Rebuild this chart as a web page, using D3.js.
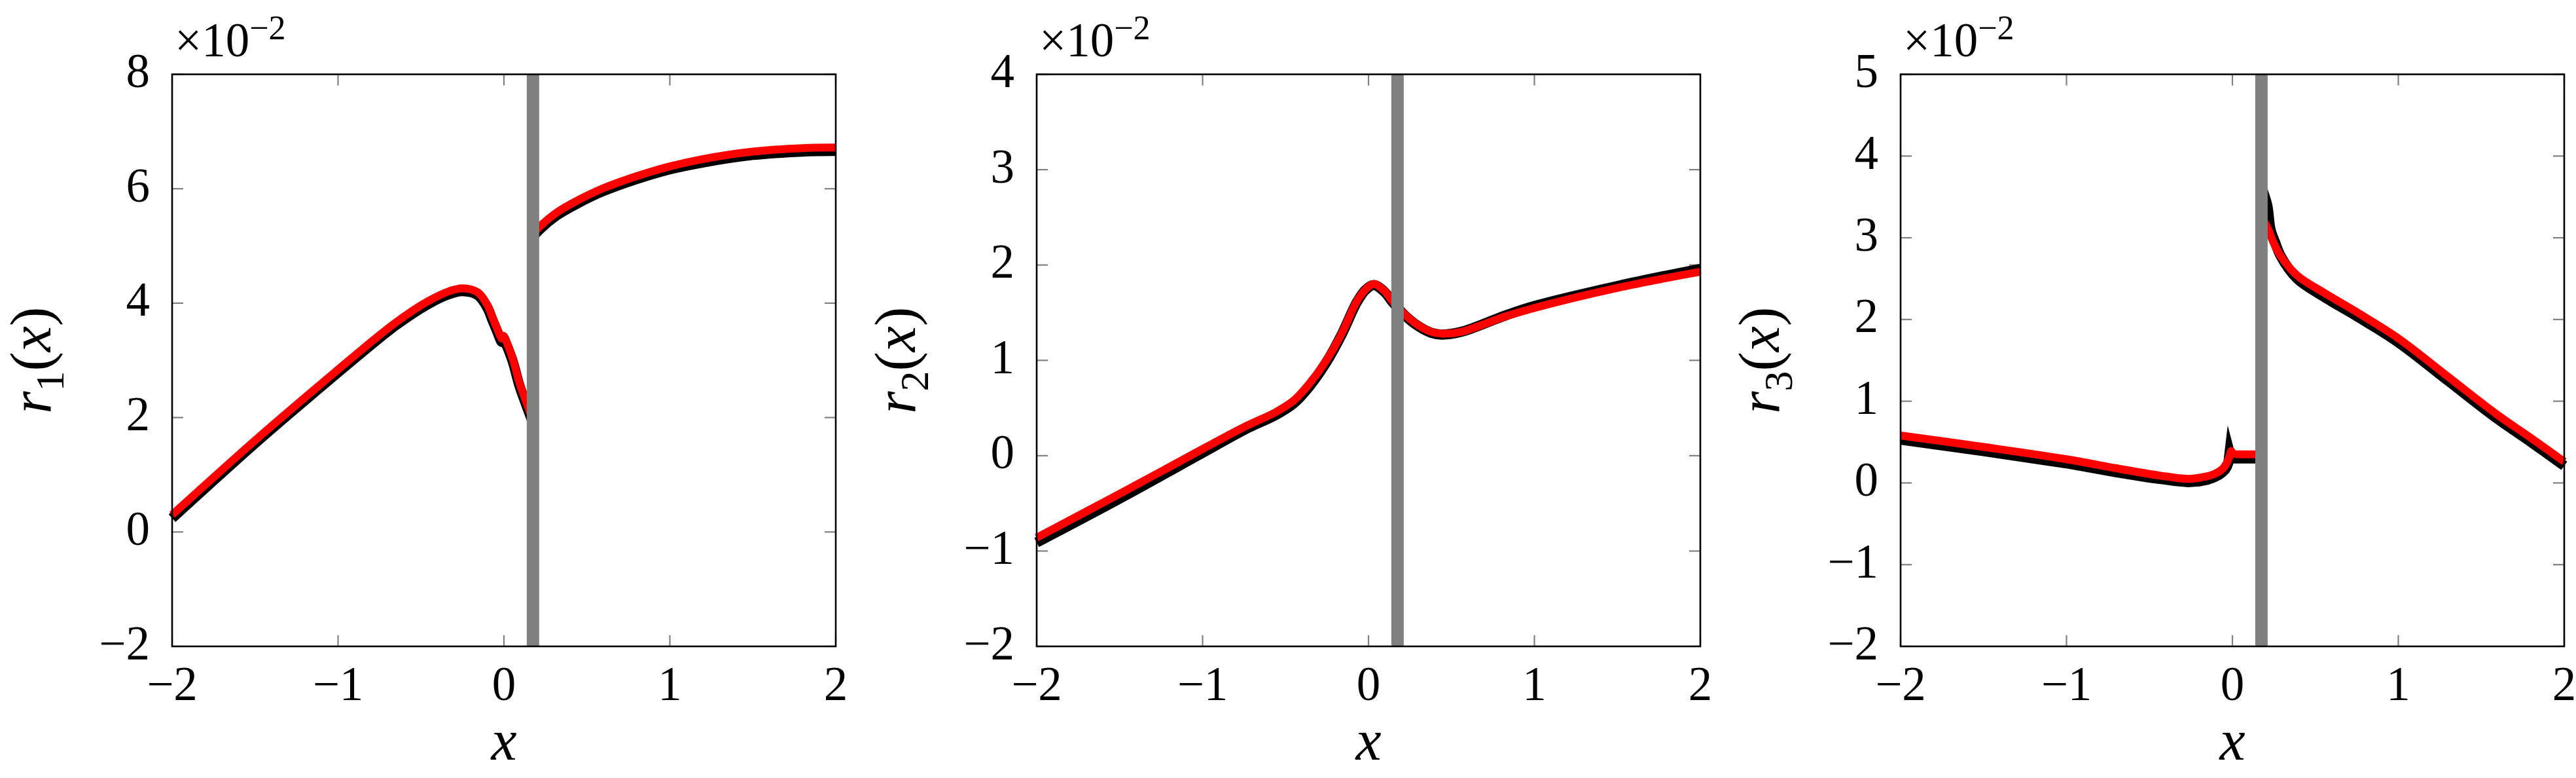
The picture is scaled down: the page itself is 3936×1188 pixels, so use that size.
<!DOCTYPE html>
<html><head><meta charset="utf-8">
<script src="https://cdn.jsdelivr.net/npm/d3@7"></script>
<style>html,body{margin:0;padding:0;background:#fff;} svg{display:block;}
svg text{font-family:"Liberation Serif","Times New Roman",Times,"Nimbus Roman",serif;}</style>
</head><body>
<svg id="chart" width="3936" height="1188"></svg>
<script>
// ---------- data (y in units of 1e-2) ----------
const xTicks = [-2, -1, 0, 1, 2];
const yTicks1 = [-2, 0, 2, 4, 6, 8];
const yTicks2 = [-2, -1, 0, 1, 2, 3, 4];
const yTicks3 = [-2, -1, 0, 1, 2, 3, 4, 5];
const yDomains = [[-2, 8], [-2, 4], [-2, 5]];
const yLabelSubs = ["1", "2", "3"];
const interfaceX = 0.175;

// panel 1: r1(x)
const r1RedLeft = [[-2,0.30],[-1.5,1.60],[-1.118,2.55],[-0.855,3.19],[-0.658,3.65],[-0.46,4.03],[-0.329,4.21],[-0.25,4.26],[-0.158,4.19],[-0.10,3.97],[-0.07,3.76],[-0.04,3.55],[-0.012,3.38],[-0.004,3.43],[0.01,3.36],[0.052,3.04],[0.092,2.62],[0.131,2.30],[0.175,1.96]];
const r1BlackLeft = [[-2,0.24],[-1.5,1.55],[-1.118,2.50],[-0.855,3.14],[-0.658,3.60],[-0.46,3.98],[-0.329,4.16],[-0.25,4.21],[-0.158,4.14],[-0.10,3.92],[-0.07,3.71],[-0.04,3.50],[-0.012,3.32],[-0.004,3.40],[0.01,3.31],[0.052,2.99],[0.092,2.57],[0.131,2.25],[0.175,1.91]];
const r1RedRight = [[0.175,5.22],[0.212,5.33],[0.316,5.58],[0.447,5.80],[0.6,6.01],[0.8,6.22],[1.0,6.39],[1.2,6.52],[1.5,6.65],[1.8,6.71],[2.0,6.72]];
const r1BlackRight = [[0.175,5.16],[0.212,5.28],[0.316,5.53],[0.447,5.75],[0.6,5.96],[0.8,6.17],[1.0,6.34],[1.2,6.46],[1.5,6.59],[1.8,6.65],[2.0,6.66]];

// panel 2: r2(x)
const r2Red = [[-2,-0.86],[-1.5,-0.40],[-1.0,0.07],[-0.75,0.30],[-0.556,0.46],[-0.45,0.58],[-0.359,0.75],[-0.254,1.00],[-0.162,1.28],[-0.07,1.62],[-0.017,1.745],[0.033,1.80],[0.101,1.72],[0.141,1.63],[0.22,1.48],[0.299,1.37],[0.377,1.30],[0.443,1.28],[0.561,1.30],[0.824,1.46],[1.0,1.55],[1.5,1.76],[2.0,1.93]];
const r2Black = [[-2,-0.91],[-1.5,-0.45],[-1.0,0.03],[-0.75,0.27],[-0.556,0.43],[-0.45,0.55],[-0.359,0.72],[-0.254,0.98],[-0.162,1.27],[-0.07,1.61],[-0.017,1.74],[0.033,1.79],[0.101,1.71],[0.141,1.62],[0.22,1.47],[0.299,1.36],[0.377,1.29],[0.443,1.27],[0.561,1.30],[0.824,1.47],[1.0,1.57],[1.5,1.78],[2.0,1.96]];

// panel 3: r3(x)
const r3RedLeft = [[-2,0.58],[-1.5,0.44],[-1.0,0.29],[-0.7,0.18],[-0.438,0.09],[-0.267,0.05],[-0.18,0.07],[-0.109,0.11],[-0.06,0.17],[-0.035,0.24],[-0.015,0.34],[-0.007,0.39],[0.005,0.36],[0.05,0.35],[0.1,0.35],[0.175,0.35]];
const r3BlackLeft = [[-2,0.53],[-1.5,0.39],[-1.0,0.24],[-0.7,0.13],[-0.5,0.065],[-0.438,0.05],[-0.35,0.025],[-0.267,0.01],[-0.2,0.02],[-0.15,0.04],[-0.109,0.07],[-0.08,0.10],[-0.06,0.13],[-0.045,0.16],[-0.033,0.20],[-0.024,0.25],[-0.017,0.37],[-0.008,0.30],[0.005,0.30],[0.05,0.30],[0.175,0.30]];
const r3RedRight = [[0.175,3.25],[0.21,3.13],[0.25,2.93],[0.29,2.78],[0.39,2.54],[0.55,2.33],[0.75,2.09],[1.0,1.77],[1.3,1.30],[1.6,0.83],[1.8,0.55],[2.0,0.26]];
const r3BlackRight = [[0.175,3.62],[0.21,3.40],[0.23,3.10],[0.26,2.93],[0.29,2.78],[0.39,2.50],[0.55,2.28],[0.75,2.04],[1.0,1.72],[1.3,1.25],[1.6,0.78],[1.8,0.50],[2.0,0.21]];

const panelYTicks = [yTicks1, yTicks2, yTicks3];
const panelRed = [[r1RedLeft, r1RedRight], [r2Red], [r3RedLeft, r3RedRight]];
const panelBlack = [[r1BlackLeft, r1BlackRight], [r2Black], [r3BlackLeft, r3BlackRight]];
const sharpSegs = new Set([r3BlackLeft]);

// ---------- layout ----------
const panelLefts = [263, 1584, 2904];
const pw = 1014, yTop = 113.5, yBottom = 987;
const minus = v => (v < 0 ? "\u2212" + Math.abs(v) : String(v));

const svg = d3.select("#chart");
svg.append("rect").attr("width", 3936).attr("height", 1188).attr("fill", "#fff");

panelLefts.forEach((left, i) => {
  const g = svg.append("g");
  const x = d3.scaleLinear().domain([-2, 2]).range([left, left + pw]);
  const y = d3.scaleLinear().domain(yDomains[i]).range([yBottom, yTop]);
  const smooth = d3.line().x(d => x(d[0])).y(d => y(d[1])).curve(d3.curveCatmullRom.alpha(0.5));
  const sharp = d3.line().x(d => x(d[0])).y(d => y(d[1])).curve(d3.curveLinear);

  // ticks (inside, mirrored on all four sides)
  const tk = g.append("g").attr("stroke", "#808080").attr("stroke-width", 2.2);
  xTicks.forEach(t => {
    tk.append("line").attr("x1", x(t)).attr("x2", x(t)).attr("y1", yBottom).attr("y2", yBottom - 17);
    tk.append("line").attr("x1", x(t)).attr("x2", x(t)).attr("y1", yTop).attr("y2", yTop + 17);
  });
  panelYTicks[i].forEach(t => {
    tk.append("line").attr("x1", left).attr("x2", left + 17).attr("y1", y(t)).attr("y2", y(t));
    tk.append("line").attr("x1", left + pw).attr("x2", left + pw - 17).attr("y1", y(t)).attr("y2", y(t));
  });

  // series: black underneath, red on top
  panelBlack[i].forEach(seg => {
    g.append("path").attr("d", (sharpSegs.has(seg) ? sharp : smooth)(seg)).attr("fill", "none")
      .attr("stroke", "#000").attr("stroke-width", 15.5)
      .attr("stroke-linejoin", "miter").attr("stroke-miterlimit", 10);
  });
  panelRed[i].forEach(seg => {
    g.append("path").attr("d", smooth(seg)).attr("fill", "none").attr("stroke", "#ff0000")
      .attr("stroke-width", 12);
  });

  // interface bar
  g.append("line").attr("x1", x(interfaceX)).attr("x2", x(interfaceX))
    .attr("y1", yTop).attr("y2", yBottom).attr("stroke", "#808080").attr("stroke-width", 19);

  // frame
  g.append("rect").attr("x", left).attr("y", yTop).attr("width", pw).attr("height", yBottom - yTop)
    .attr("fill", "none").attr("stroke", "#000").attr("stroke-width", 2.6);

  // tick labels
  xTicks.forEach(t => {
    g.append("text").attr("x", x(t)).attr("y", 1069).attr("text-anchor", "middle")
      .attr("font-size", 73).text(minus(t));
  });
  panelYTicks[i].forEach(t => {
    g.append("text").attr("x", left - 34).attr("y", y(t) + 19.5).attr("text-anchor", "end")
      .attr("font-size", 73).text(minus(t));
  });

  // scale factor
  const sf = g.append("text").attr("x", left + 4).attr("y", 86).attr("font-size", 73);
  sf.append("tspan").text("\u00d710");
  sf.append("tspan").attr("font-size", 52).attr("dy", -26).text("\u22122");

  // x label
  g.append("text").attr("x", left + pw / 2).attr("y", 1160).attr("text-anchor", "middle")
    .attr("font-size", 88).attr("font-style", "italic").text("x");

  // y label
  const cy = (yTop + yBottom) / 2, lx = left - 186;
  const yl = g.append("text").attr("transform", `translate(${lx},${cy}) rotate(-90)`)
    .attr("text-anchor", "middle").attr("font-size", 88);
  yl.append("tspan").attr("font-style", "italic").text("r");
  yl.append("tspan").attr("font-size", 62).attr("dy", 20).text(yLabelSubs[i]);
  yl.append("tspan").attr("dy", -20).text("(");
  yl.append("tspan").attr("font-style", "italic").text("x");
  yl.append("tspan").text(")");
});
</script>
</body></html>
